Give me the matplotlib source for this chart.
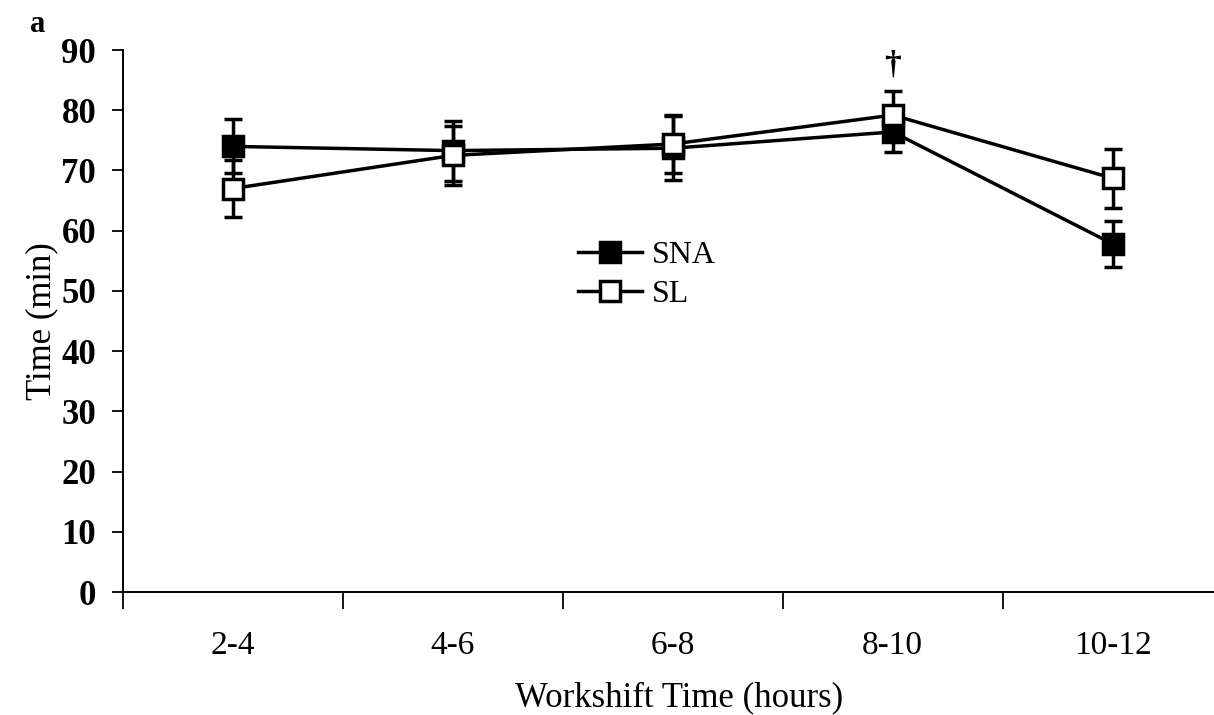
import matplotlib
matplotlib.use("Agg")
import matplotlib.pyplot as plt
from matplotlib.lines import Line2D
import numpy as np

categories = ["2-4", "4-6", "6-8", "8-10", "10-12"]
sna_mean = [74.0, 73.3, 73.7, 76.4, 57.8]
sna_err = [4.5, 5.0, 5.3, 3.4, 3.8]
sl_mean = [67.0, 72.5, 74.4, 79.2, 68.7]
sl_err = [4.8, 4.9, 4.8, 4.0, 4.9]
y_ticks = [0, 10, 20, 30, 40, 50, 60, 70, 80, 90]

plt.rcParams['font.family'] = ['Liberation Serif', 'DejaVu Serif']

fig = plt.figure(figsize=(12.14, 7.15), dpi=100)
ax = fig.add_axes([0.101, 0.172, 0.899, 0.758])

x = np.arange(len(categories))
common = dict(color='black', lw=2.5, capsize=6.5, capthick=3, elinewidth=2.5,
              marker='s', markersize=15, markeredgewidth=2.5, markeredgecolor='black')
ax.errorbar(x, sna_mean, yerr=sna_err, markerfacecolor='black', zorder=3, **common)
ax.errorbar(x, sl_mean, yerr=sl_err, markerfacecolor='white', zorder=4, **common)

ax.text(x[3], sl_mean[3] + sl_err[3] + 1.8, '†', ha='center', va='bottom', fontsize=24, fontweight='bold')

ax.set_xlim(-0.5, 4.46)
ax.set_ylim(0, 90)
ax.set_yticks(y_ticks)
ax.set_xticks(x)
ax.set_xticklabels(categories)
ax.set_xticks(np.arange(-0.5, 4.0, 1.0), minor=True)
ax.tick_params(axis='x', which='major', length=0, pad=28, labelsize=24)
ax.tick_params(axis='x', which='minor', length=12, width=1.3, direction='out')
ax.tick_params(axis='y', length=8, width=1.3, direction='out', labelsize=25, pad=11)
for lab in ax.get_yticklabels():
    lab.set_fontweight('bold')

for s in ['top', 'right']:
    ax.spines[s].set_visible(False)
for s in ['left', 'bottom']:
    ax.spines[s].set_linewidth(1.4)

ax.set_xlabel('Workshift Time (hours)', fontsize=25, labelpad=8)
ax.xaxis.set_label_coords(0.51, -0.165)
ax.set_ylabel('Time (min)', fontsize=25, labelpad=2)

handles = [
    Line2D([], [], color='black', lw=2.5, marker='s', markersize=15, markeredgewidth=2.5,
           markerfacecolor='black', markeredgecolor='black'),
    Line2D([], [], color='black', lw=2.5, marker='s', markersize=15, markeredgewidth=2.5,
           markerfacecolor='white', markeredgecolor='black'),
]
ax.legend(handles, ['SNA', 'SL'], loc='center left', bbox_to_anchor=(0.391, 0.585),
          frameon=False, fontsize=23, handlelength=2.0, handletextpad=0.3, labelspacing=0.3)

fig.text(0.025, 0.955, 'a', fontsize=22, fontweight='bold')

fig.savefig('out.png', dpi=100)
